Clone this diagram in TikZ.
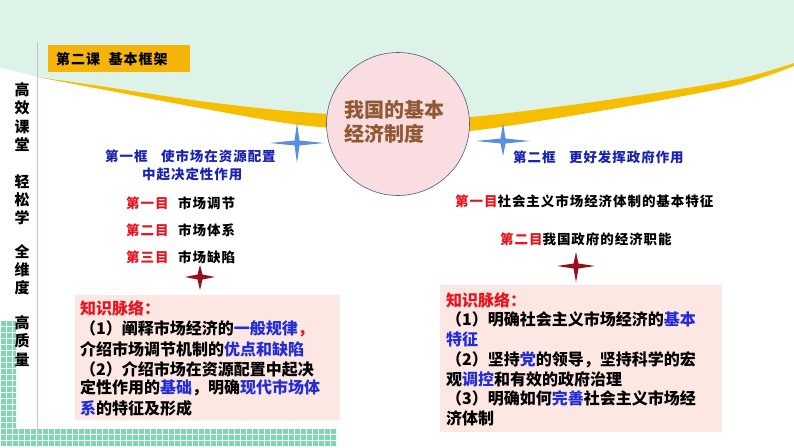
\documentclass[tikz,border=0pt]{standalone}
\usepackage{fontspec}
\setmainfont{Noto Sans CJK SC}
\newfontfamily\kai[LetterSpace=7]{Noto Sans CJK SC}
\definecolor{mint}{RGB}{221,243,232}
\definecolor{band}{RGB}{245,190,0}
\definecolor{titlebg}{RGB}{245,180,10}
\definecolor{circfill}{RGB}{250,221,225}
\definecolor{circline}{RGB}{80,90,130}
\definecolor{circtext}{RGB}{143,90,50}
\definecolor{hblue}{RGB}{25,35,175}
\definecolor{kblue}{RGB}{35,45,215}
\definecolor{kred}{RGB}{230,20,30}
\definecolor{boxbg}{RGB}{252,231,227}
\definecolor{starblue}{RGB}{90,142,222}
\definecolor{starred}{RGB}{150,15,30}
\definecolor{gridgreen}{RGB}{125,215,175}
\definecolor{vline}{RGB}{185,200,215}
\newcommand\fstar[6]{%
  \fill[#6] (#1,{#2-#4}) -- ({#1+2.5},{#2-2.5}) -- ({#1+#3},#2) -- ({#1+2.5},{#2+2.5})
   -- (#1,{#2+#5}) -- ({#1-2.5},{#2+2.5}) -- ({#1-#3},#2) -- ({#1-2.5},{#2-2.5}) -- cycle;}
\begin{document}
\begin{tikzpicture}[x=1pt,y=-1pt,
  side/.style={anchor=center, align=center, inner sep=0pt, font=\fontsize{15}{18.2}\selectfont\bfseries},
  kaitxt/.style={anchor=west, inner sep=0pt, font=\kai\fontsize{13.5}{16}\selectfont\bfseries},
  boxtxt/.style={anchor=west, inner sep=0pt, font=\fontsize{16}{19}\selectfont\bfseries},
  pinkbox/.style={fill=boxbg, anchor=north west, inner sep=0pt}]
\useasboundingbox (0,0) rectangle (794,447);
% background curve region
\fill[mint] (0,0) -- (0,68) .. controls (15,71) and (28,74) .. (37,77)
  -- plot[smooth] coordinates {(37,77) (100,86) (200,101) (300,112) (400,117) (470,117) (600,101) (733,80) (794,63)}
  -- (794,0) -- cycle;
% yellow band
\fill[band] plot[smooth] coordinates {(37,77) (100,86) (200,101) (300,112) (400,117) (470,117) (600,101) (733,80) (794,63)}
  -- (794,66)
  -- plot[smooth] coordinates {(794,66) (733,86) (600,111) (470,131) (400,132) (300,125) (200,108) (100,89) (37,77)} -- cycle;
% green grid
\begin{scope}
\clip (0,320) rectangle (16,447) (0,428) rectangle (336,447);
\fill[gridgreen] (0,300) rectangle (340,447);
\foreach \i in {0,6,...,340} \draw[white, line width=0.6pt] (\i,300) -- (\i,447);
\foreach \j in {302,308,...,447} \draw[white, line width=0.6pt] (0,\j) -- (340,\j);
\end{scope}
% vertical line
\draw[vline, line width=0.8pt] (37,42) -- (37,447);
% title
\node[fill=titlebg, anchor=north west, minimum width=142, minimum height=27, inner sep=0pt] (title) at (48,45) {};
\node[anchor=west, inner sep=0pt, font=\kai\fontsize{14}{16}\selectfont\bfseries] (titletxt) at (56,59) {第二课\hspace{0.6em}基本框架};
% side labels
\node[side] (s1) at (22,117) {高\\效\\课\\堂};
\node[side] (s2) at (22,200) {轻\\松\\学};
\node[side] (s3) at (22,270) {全\\维\\度};
\node[side] (s4) at (22,341) {高\\质\\量};
% circle
\node[circle, fill=circfill, draw=circline, line width=0.6pt, minimum size=143, inner sep=0pt] (core) at (398,124) {};
\node[anchor=west, align=left, inner sep=0pt, text=circtext, font=\fontsize{20}{23.5}\selectfont\bfseries] (coretxt) at (344,122) {我国的基本\\经济制度};
% stars
\fstar{297}{143}{27}{20}{20}{starblue}
\fstar{503}{141}{27}{18}{15}{starblue}
\fstar{200}{277}{15}{12}{13}{starred}
\fstar{576}{266}{19}{14}{16}{starred}
% left headings
\node[kaitxt, text=hblue] (k1a) at (105,156) {第一框\hspace{1em}使市场在资源配置};
\node[kaitxt, text=hblue] (k1b) at (142,174) {中起决定性作用};
\node[kaitxt, text=kred] (m1) at (126,203) {第一目};
\node[kaitxt] (m1t) at (178,203) {市场调节};
\node[kaitxt, text=kred] (m2) at (126,230) {第二目};
\node[kaitxt] (m2t) at (178,230) {市场体系};
\node[kaitxt, text=kred] (m3) at (126,257) {第三目};
\node[kaitxt] (m3t) at (178,257) {市场缺陷};
% right headings
\node[kaitxt, text=hblue] (k2) at (513,157) {第二框\hspace{1em}更好发挥政府作用};
\node[kaitxt] (r1) at (455,201) {\textcolor{kred}{第一目}社会主义市场经济体制的基本特征};
\node[kaitxt] (r2) at (500,239) {\textcolor{kred}{第二目}我国政府的经济职能};
% left box
\node[pinkbox, minimum width=265, minimum height=125] (lbox) at (75,295) {};
\node[boxtxt, text=kred] (l0) at (80,308) {知识脉络：};
\node[boxtxt] (l1) at (80,329) {（1）阐释市场经济的\textcolor{kblue}{一般规律}\textcolor{kred}{，}};
\node[boxtxt] (l2) at (80,349) {介绍市场调节机制的\textcolor{kblue}{优点和缺陷}};
\node[boxtxt] (l3) at (80,369) {（2）介绍市场在资源配置中起决};
\node[boxtxt] (l4) at (80,388) {定性作用的\textcolor{kblue}{基础}，明确\textcolor{kblue}{现代市场体}};
\node[boxtxt] (l5) at (80,408) {\textcolor{kblue}{系}的特征及形成};
% right box
\node[pinkbox, minimum width=282, minimum height=147] (rbox) at (440,285) {};
\node[boxtxt, text=kred] (q0) at (446,300) {知识脉络：};
\node[boxtxt] (q1) at (446,319) {（1）明确社会主义市场经济的\textcolor{kblue}{基本}};
\node[boxtxt] (q2) at (446,339) {\textcolor{kblue}{特征}};
\node[boxtxt] (q3) at (446,360) {（2）坚持\textcolor{kblue}{党}的领导，坚持科学的宏};
\node[boxtxt] (q4) at (446,379) {观\textcolor{kblue}{调控}和有效的政府治理};
\node[boxtxt] (q5) at (446,398) {（3）明确如何\textcolor{kblue}{完善}社会主义市场经};
\node[boxtxt] (q6) at (446,418) {济体制};
\end{tikzpicture}
\end{document}
